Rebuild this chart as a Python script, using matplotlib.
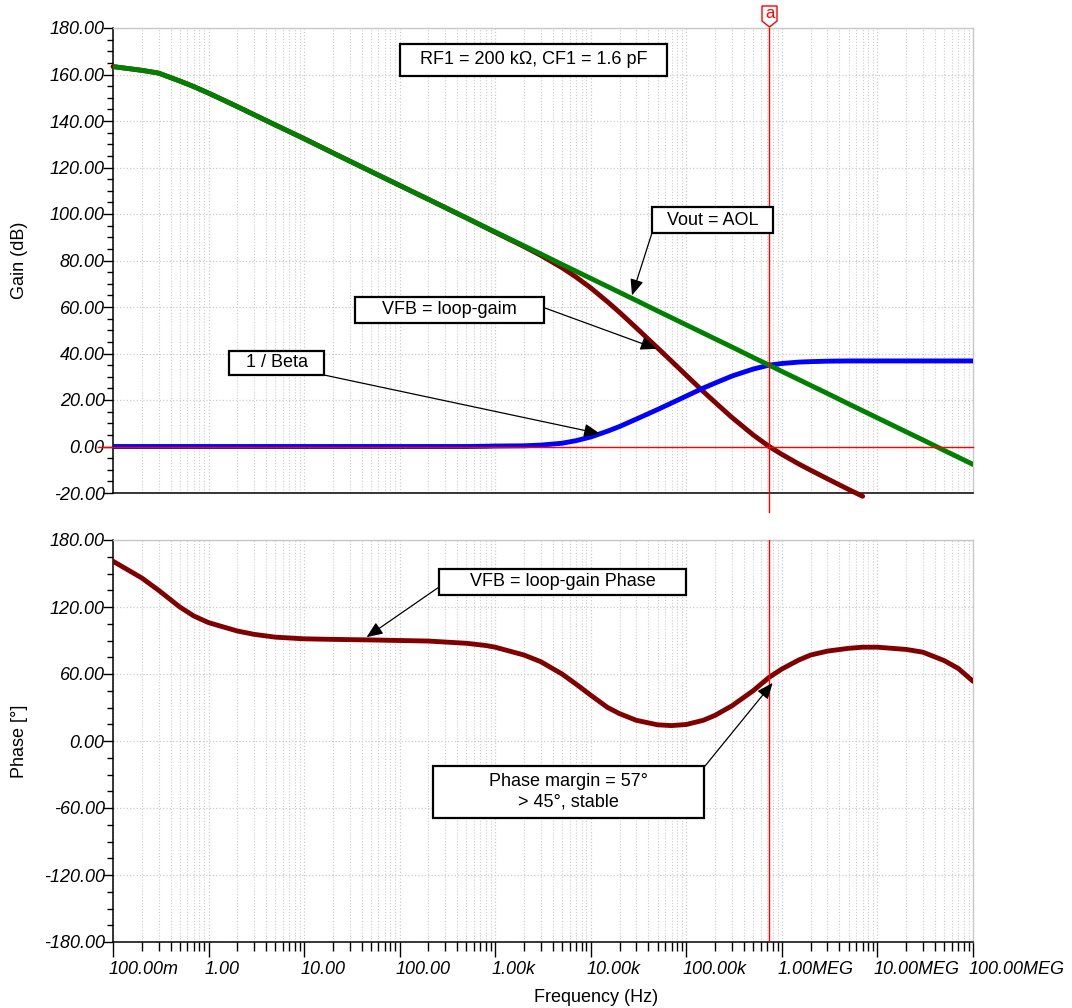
import matplotlib
matplotlib.use("Agg")
import matplotlib.pyplot as plt
from matplotlib.ticker import MultipleLocator, LogLocator, NullFormatter
from matplotlib.patches import Rectangle, Polygon
from matplotlib.transforms import ScaledTranslation

plt.rcParams['font.family'] = ['Liberation Sans', 'DejaVu Sans']

# ---- simulated AC sweep results -------------------------------------------
freq_hz = [0.1, 0.2, 0.3, 0.5, 0.7, 1, 2, 3, 5, 10, 20, 50, 100, 200, 500, 800,
           1e3, 2e3, 3e3, 5e3, 7e3, 1e4, 1.5e4, 2e4, 3e4, 5e4, 7e4, 1e5, 1.5e5,
           2e5, 3e5, 5e5, 7.35e5, 1e6, 1.5e6, 2e6, 3e6, 5e6, 7e6, 1e7, 2e7, 3e7,
           5e7, 7e7, 1e8]

# open-loop gain of the amplifier (Vout = AOL), dB
aol_db = [163.4, 161.8, 160.6, 157.2, 154.8, 152.0, 146.2, 142.7, 138.3, 132.4,
          126.3, 118.3, 112.3, 106.3, 98.3, 94.2, 92.3, 86.3, 82.8, 78.3, 75.4,
          72.3, 68.8, 66.3, 62.8, 58.3, 55.4, 52.3, 48.8, 46.3, 42.8, 38.3, 35.0,
          32.3, 28.8, 26.3, 22.8, 18.3, 15.4, 12.3, 6.3, 2.8, -1.7, -4.6, -7.7]

# noise gain 1/Beta, dB
inv_beta_db = [0.0, 0.0, 0.0, 0.0, 0.0, 0.0, 0.0, 0.0, 0.0, 0.0, 0.0, 0.0, 0.0,
               0.0, 0.0, 0.1, 0.2, 0.3, 0.6, 1.4, 2.5, 4.1, 6.6, 8.6, 11.8, 15.9,
               18.7, 21.7, 25.1, 27.3, 30.3, 33.3, 35.0, 35.7, 36.3, 36.5, 36.7,
               36.8, 36.8, 36.8, 36.8, 36.8, 36.8, 36.8, 36.8]

# loop gain magnitude (VFB), dB -- sweep shown up to 7 MHz
loop_gain_db = [163.4, 161.8, 160.6, 157.2, 154.8, 152.0, 146.2, 142.7, 138.3,
                132.4, 126.3, 118.3, 112.3, 106.3, 98.3, 94.1, 92.1, 86.0, 82.2,
                76.9, 72.9, 68.2, 62.2, 57.7, 51.0, 42.4, 36.7, 30.6, 23.7, 19.0,
                12.5, 5.0, 0.0, -3.4, -7.5, -10.2, -13.9, -18.5, -21.4]

# loop gain phase, degrees
loop_phase_deg = [161, 146, 135, 120, 112, 106, 98.5, 95.5, 93, 91.5, 91, 90.5,
                  90, 89.5, 87.5, 85.5, 84, 77, 71, 60, 51, 41, 30, 24.5, 18.5,
                  14.5, 13.8, 14.8, 18.5, 23, 31.5, 45, 57, 64.5, 72.5, 77, 80.5,
                  83, 84, 84, 82, 79.5, 72, 65, 53.5]

cursor_freq = 7.35e5  # 0 dB loop-gain crossover

decade_ticks = [1e-1, 1e0, 1e1, 1e2, 1e3, 1e4, 1e5, 1e6, 1e7, 1e8]
decade_labels = ["100.00m", "1.00", "10.00", "100.00", "1.00k", "10.00k",
                 "100.00k", "1.00MEG", "10.00MEG", "100.00MEG"]
gain_ticks = list(range(-20, 181, 20))
phase_ticks = list(range(-180, 181, 60))

# ---- figure layout ----------------------------------------------------------
W, H = 1072, 1008
fig = plt.figure(figsize=(W / 100, H / 100), dpi=100)


def px_rect(x0, y0, x1, y1):
    """Pixel box (origin top-left) -> figure fraction [left, bottom, w, h]."""
    return [x0 / W, 1 - y1 / H, (x1 - x0) / W, (y1 - y0) / H]


ax_g = fig.add_axes(px_rect(113, 28, 973, 493))
ax_p = fig.add_axes(px_rect(113, 540, 973, 942))

GRID = '#cccccc'
FS = 13


def style_axes(ax, yticks, yminor):
    ax.set_xscale('log')
    ax.set_xlim(1e-1, 1e8)
    ax.set_ylim(yticks[0], yticks[-1])
    ax.set_yticks(yticks, labels=[f"{v:.2f}" for v in yticks],
                  fontstyle='italic', fontsize=FS)
    ax.yaxis.set_minor_locator(MultipleLocator(yminor))
    ax.set_xticks(decade_ticks)
    ax.xaxis.set_minor_locator(LogLocator(base=10, subs=range(2, 10), numticks=100))
    ax.xaxis.set_minor_formatter(NullFormatter())
    for s in ('top', 'right'):
        ax.spines[s].set_color('#c8c8c8')
        ax.spines[s].set_linewidth(1.0)
    for s in ('left', 'bottom'):
        ax.spines[s].set_color('black')
        ax.spines[s].set_linewidth(1.1)
    ax.grid(which='major', axis='both', color=GRID, ls=':', lw=0.9)
    ax.grid(which='minor', axis='x', color=GRID, ls=':', lw=0.8)
    ax.tick_params(axis='y', which='major', length=7.5, width=1.0,
                   direction='out', pad=-1.5)
    ax.tick_params(axis='y', which='minor', length=4.3, width=1.0,
                   direction='out')
    ax.set_axisbelow(True)


style_axes(ax_g, gain_ticks, 5)
style_axes(ax_p, phase_ticks, 15)

ax_g.tick_params(axis='x', which='both', length=0, labelbottom=False)
ax_p.tick_params(axis='x', which='major', length=10.8, width=1.0, pad=3)
ax_p.tick_params(axis='x', which='minor', length=6.5, width=1.0)
ax_p.set_xticklabels(decade_labels, fontstyle='italic', fontsize=FS, ha='left')
shift = ScaledTranslation(-4 / 100, 0, fig.dpi_scale_trans)
for lbl in ax_p.get_xticklabels():
    lbl.set_transform(lbl.get_transform() + shift)

# ---- curves -----------------------------------------------------------------
LW = 3.5
ax_g.plot(freq_hz[:len(loop_gain_db)], loop_gain_db, color='#800000', lw=LW,
          solid_capstyle='round', clip_on=False, zorder=3)
ax_g.plot(freq_hz, inv_beta_db, color='#0000ff', lw=LW,
          solid_capstyle='round', zorder=4)
ax_g.plot(freq_hz, aol_db, color='#008000', lw=LW,
          solid_capstyle='round', zorder=5)
ax_p.plot(freq_hz, loop_phase_deg, color='#800000', lw=LW,
          solid_capstyle='round', zorder=3)

# 0 dB reference and crossover cursor
ax_g.axhline(0, xmin=-0.017, xmax=1, color='red', lw=1.0, clip_on=False, zorder=6)
ax_g.axvline(cursor_freq, ymin=-0.041, ymax=1, color='red', lw=1.0,
             clip_on=False, zorder=6)
ax_p.axvline(cursor_freq, color='red', lw=1.0, zorder=6)

# cursor flag "a"
flag = [(762, 6), (777, 6), (777, 21), (769.5, 27), (762, 21)]
fig.patches.append(Polygon([(x / W, 1 - y / H) for x, y in flag], closed=True,
                           transform=fig.transFigure, facecolor='white',
                           edgecolor='red', lw=1.0))
fig.text(769.5 / W, 1 - 14 / H, 'a', color='red', fontsize=12,
         ha='center', va='center')


# ---- callout boxes ----------------------------------------------------------
def label_box(ax, x0, y0, w, h, text):
    ax.add_patch(Rectangle((x0, y0), w, h, transform=ax.transAxes,
                           facecolor='white', edgecolor='black', lw=1.6,
                           zorder=10, clip_on=False))
    ax.text(x0 + w / 2, y0 + h / 2, text, transform=ax.transAxes,
            ha='center', va='center', fontsize=FS, zorder=11,
            multialignment='center', linespacing=1.25)


def pointer(ax, tail, tip):
    ax.annotate('', xy=tip, xycoords='data', xytext=tail,
                textcoords='axes fraction', zorder=9,
                arrowprops=dict(arrowstyle='-|>,head_length=0.65,head_width=0.27',
                                mutation_scale=15, color='black', lw=0.9,
                                shrinkA=0, shrinkB=0))


pointer(ax_g, (0.6267, 0.5591), (2.7e4, 65))
pointer(ax_g, (0.5023, 0.3978), (4.9e4, 42))
pointer(ax_g, (0.2453, 0.2538), (1.25e4, 5.5))
pointer(ax_p, (0.3791, 0.8830), (45, 93))
pointer(ax_p, (0.6884, 0.4378), (8.0e5, 52))

label_box(ax_g, 0.3337, 0.8968, 0.3105, 0.0688, 'RF1 = 200 kΩ, CF1 = 1.6 pF')
label_box(ax_g, 0.6267, 0.5591, 0.1407, 0.0559, 'Vout = AOL')
label_box(ax_g, 0.2814, 0.3656, 0.2198, 0.0559, 'VFB = loop-gaim')
label_box(ax_g, 0.1349, 0.2538, 0.1105, 0.0516, '1 / Beta')
label_box(ax_p, 0.3791, 0.8632, 0.2872, 0.0647, 'VFB = loop-gain Phase')
label_box(ax_p, 0.3721, 0.3085, 0.3151, 0.1294,
          'Phase margin = 57°\n> 45°, stable')

# ---- axis titles ------------------------------------------------------------
fig.text(19 / W, 1 - 260 / H, 'Gain (dB)', rotation=90, ha='center',
         va='center', fontsize=FS)
fig.text(19 / W, 1 - 741 / H, 'Phase [°]', rotation=90, ha='center',
         va='center', fontsize=FS)
fig.text(596 / W, 1 - 997 / H, 'Frequency (Hz)', ha='center', va='center',
         fontsize=FS)

fig.savefig('out.png', dpi=100)
